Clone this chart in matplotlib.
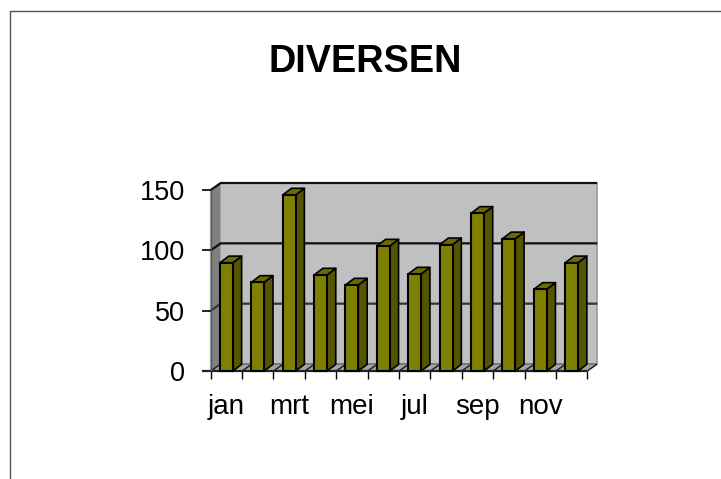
import matplotlib
matplotlib.use("Agg")
import matplotlib.pyplot as plt
from matplotlib.patches import Polygon

plt.rcParams['font.family'] = ['Liberation Sans', 'DejaVu Sans']

months = ['jan', 'feb', 'mrt', 'apr', 'mei', 'jun', 'jul', 'aug', 'sep', 'okt', 'nov', 'dec']
values = [89.7, 73.5, 145.9, 79.6, 71.3, 103.6, 80.4, 104.7, 130.7, 109.6, 67.7, 89.7]
y_ticks = [0, 50, 100, 150]
shown = ['jan', 'mrt', 'mei', 'jul', 'sep', 'nov']

W, H = 721, 479
fig = plt.figure(figsize=(W / 100, H / 100), dpi=100)

# front plane of the fake 3d box
ax = fig.add_axes([210.7 / W, (H - 371) / H, 376.6 / W, 181 / H])
ax.set_xlim(0, 12)
ax.set_ylim(0, 150)
ax.axis('off')

# depth of box and bars, in data units
dx, dy = 0.319, 5.8
bdx, bdy = 0.28, 5.5
bw = 0.41
n = len(months)
top = y_ticks[-1]


def poly(pts, fc, ec='none', lw=0, z=1):
    ax.add_patch(Polygon(pts, closed=True, facecolor=fc, edgecolor=ec, linewidth=lw,
                         zorder=z, clip_on=False, joinstyle='round'))


def line(xs, ys, c='black', lw=1.4, z=2):
    ax.plot(xs, ys, color=c, lw=lw, zorder=z, clip_on=False, solid_capstyle='butt')


# walls and floor
poly([(dx, dy), (n + dx, dy), (n + dx, top + dy), (dx, top + dy)], '#c0c0c0')
poly([(0, 0), (dx, dy), (dx, top + dy), (0, top)], '#808080')
poly([(0, 0), (n, 0), (n + dx, dy), (dx, dy)], '#a4a4a4')
line([dx, n + dx], [dy, dy], c='#6e6e6e', lw=1.2)
line([n + dx, n + dx], [dy, top + dy], c='#999999', lw=1.2)
line([-0.03, -0.03], [0, top], c='#b0b0b0', lw=1.0)

# gridlines, running back along the left wall
for v in y_ticks[1:]:
    line([0, dx, n + dx], [v, v + dy, v + dy], c='#111111' if v > 50 else '#333333', lw=1.6)
    line([-0.29, 0], [v, v], lw=1.2)

for i in range(n + 1):
    line([i, i + dx], [0, dy], c='#222222', lw=1.1)
    line([i, i], [0, -6.6], lw=1.0)
line([-0.29, n], [0, 0], c='#222222', lw=1.6)
line([0, 0], [0, top], c='#555555', lw=1.0)

# bars
pos = [i + 0.5 for i in range(n)]
ax.bar(pos, values, width=bw, color='#808000', edgecolor='black', linewidth=1.5, zorder=5,
       clip_on=False)
for p, v in zip(pos, values):
    l, r = p - bw / 2, p + bw / 2
    poly([(r, 0), (r + bdx, bdy), (r + bdx, v + bdy), (r, v)], '#555500', 'black', 1.2, 4)
    poly([(l, v), (r, v), (r + bdx, v + bdy), (l + bdx, v + bdy)], '#6b6b00', 'black', 1.2, 4)

# tick labels
for v in y_ticks:
    ax.annotate(str(v), (0, v), xytext=(-18.5, -7.2), textcoords='offset points',
                ha='right', va='baseline', fontsize=19.5)
for m in shown:
    ax.annotate(m, (months.index(m) + 0.5, 0), xytext=(0, -31), textcoords='offset points',
                ha='center', va='baseline', fontsize=20)

fig.text(365 / W, (H - 72) / H, 'DIVERSEN', ha='center', va='baseline', fontsize=27.3,
         fontweight='bold')

# chart area border, cut off by the image edge
fig.add_artist(plt.Line2D([9.7 / W, 9.7 / W, 1], [0, (H - 11) / H, (H - 11) / H],
                          color='#555555', lw=1.0))

fig.savefig('out.png', dpi=100)
